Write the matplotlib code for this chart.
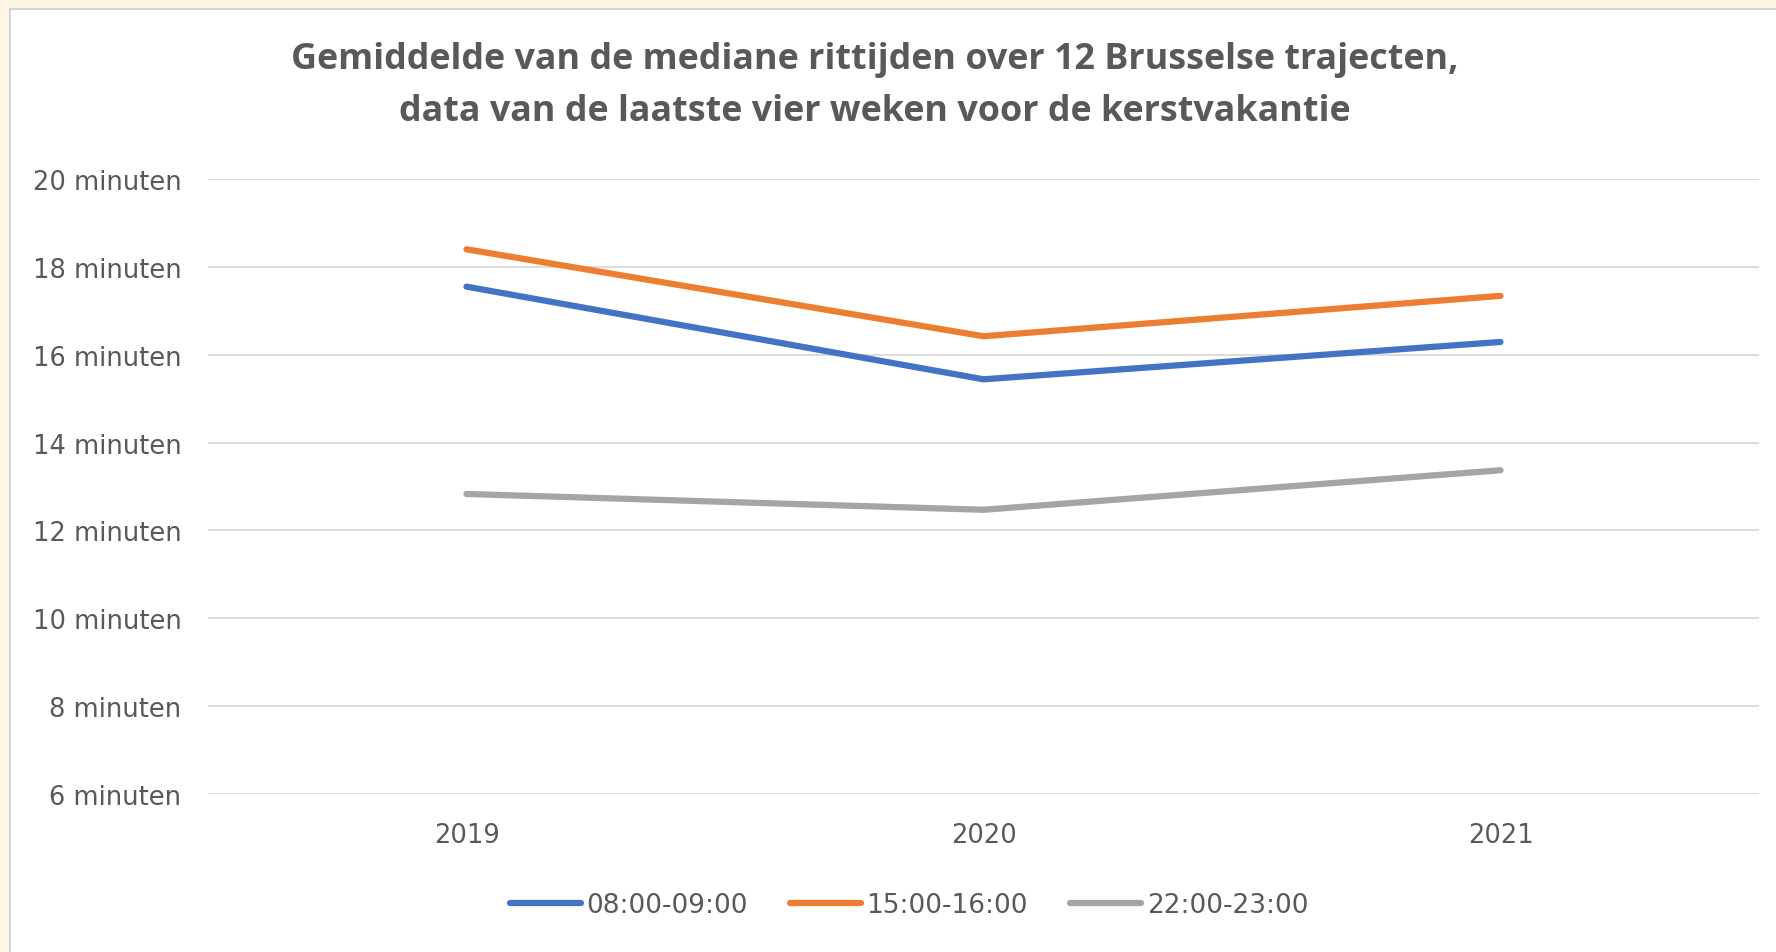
import matplotlib
matplotlib.use("Agg")
import matplotlib.pyplot as plt
from matplotlib.patches import Rectangle
from matplotlib.lines import Line2D

years = ["2019", "2020", "2021"]
series_labels = ["08:00-09:00", "15:00-16:00", "22:00-23:00"]
ochtend = [17.55, 15.44, 16.29]
middag = [18.40, 16.42, 17.34]
avond = [12.83, 12.47, 13.37]
yticks = [6, 8, 10, 12, 14, 16, 18, 20]
ytick_labels = [f"{v} minuten" for v in yticks]
title = ("Gemiddelde van de mediane rittijden over 12 Brusselse trajecten,\n"
         "data van de laatste vier weken voor de kerstvakantie")

colors = ["#4472C4", "#ED7D31", "#A5A5A5"]
W, H = 1776, 953
fig = plt.figure(figsize=(W / 100, H / 100), dpi=100)
fig.patch.set_facecolor("white")

# cream surround + light frame
fig.add_artist(Rectangle((0, 0), 1, 1, transform=fig.transFigure,
                         facecolor="#FEF5E7", edgecolor="none", zorder=-10))
fig.add_artist(Rectangle((10 / W, -0.01), 1, 1 - 10 / H + 0.01, transform=fig.transFigure,
                         facecolor="white", edgecolor="#D4D4D4", linewidth=1.5, zorder=-9))

ax = fig.add_axes([208 / W, (H - 795) / H, 1551 / W, 615 / H])
ax.set_facecolor("none")
x = list(range(len(years)))
for vals, c, lab in zip([ochtend, middag, avond], colors, series_labels):
    ax.plot(x, vals, color=c, linewidth=4.5, solid_capstyle="round",
            solid_joinstyle="round", label=lab, zorder=3)

ax.set_xlim(-0.5, 2.5)
ax.set_ylim(6, 20)
ax.set_yticks(yticks)
ax.set_yticklabels(ytick_labels)
ax.set_xticks(x)
ax.set_xticklabels(years)
ax.yaxis.grid(True, color="#D9D9D9", linewidth=1.3)
ax.set_axisbelow(True)
for s in ax.spines.values():
    s.set_visible(False)
ax.tick_params(axis="both", length=0, colors="#595959", labelsize=18.5)
ax.tick_params(axis="y", pad=19)
ax.tick_params(axis="x", pad=20)
for t in ax.get_yticklabels() + ax.get_xticklabels():
    t.set_fontfamily("DejaVu Sans")

fig.text(875 / W, 1 - 86 / H, title, ha="center", va="center",
         fontsize=25.8, fontweight="bold", color="#595959", family="Open Sans",
         linespacing=1.6)

handles = [Line2D([0], [0], color=c, linewidth=4.5, solid_capstyle="round") for c in colors]
leg = fig.legend(handles, series_labels, loc="center", bbox_to_anchor=(909 / W, 47 / H),
                 ncol=3, frameon=False, handlelength=2.7, handletextpad=0.2,
                 columnspacing=1.6, prop={"family": "DejaVu Sans", "size": 19})
for t in leg.get_texts():
    t.set_color("#595959")

fig.savefig("out.png", dpi=100, facecolor=fig.get_facecolor())
